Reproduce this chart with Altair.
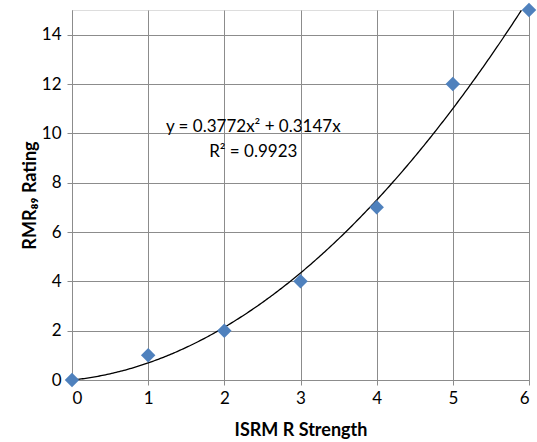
import altair as alt
import pandas as pd

strength = [0, 1, 2, 3, 4, 5, 6]
rating = [0, 1, 2, 4, 7, 12, 15]
coef_a = 0.3772
coef_b = 0.3147
eq_lines = ["y = 0.3772x\u00b2 + 0.3147x", "R\u00b2 = 0.9923"]
eq_x = 2.38
eq_y = 10.25

df = pd.DataFrame({"x": strength, "y": rating})
FONT = "Lato"
GRID = "#8c8c8c"

xscale = alt.Scale(domain=[0, 6], nice=False, zero=False)
yscale = alt.Scale(domain=[0, 15], nice=False)

xaxis = alt.Axis(values=strength, format="d", title="ISRM R Strength", grid=True, gridColor=GRID,
                 domainColor=GRID, tickColor=GRID, tickSize=5, labelFontSize=17,
                 labelFont=FONT, titleFont=FONT, titleFontSize=18, titleFontWeight="bold",
                 labelColor="black", titleColor="black", labelPadding=5,
                 titleY=50, titleBaseline="middle")
yaxis = alt.Axis(values=[0, 2, 4, 6, 8, 10, 12, 14], format="d", title="RMR\u2088\u2089 Rating", grid=True,
                 gridColor=GRID, domainColor=GRID, tickColor=GRID, tickSize=5,
                 labelFontSize=17, labelFont=FONT, titleFont=FONT, titleFontSize=18,
                 titleFontWeight="bold", labelColor="black", titleColor="black",
                 labelPadding=6, titleX=-42, titleY=185, titleBaseline="middle",
                 titleAngle=270)

curve = alt.Chart(alt.sequence(0, 6.001, 0.02, as_="x")).transform_calculate(
    y=f"{coef_a}*datum.x*datum.x + {coef_b}*datum.x"
).transform_filter("datum.y <= 15").mark_line(color="black", strokeWidth=1.3).encode(
    x=alt.X("x:Q", scale=xscale, axis=xaxis),
    y=alt.Y("y:Q", scale=yscale, axis=yaxis),
)

points = alt.Chart(df).mark_point(shape="diamond", filled=True, color="#4F81BD",
                                  size=210, opacity=1).encode(
    x=alt.X("x:Q", scale=xscale),
    y=alt.Y("y:Q", scale=yscale),
)

text = alt.Chart(pd.DataFrame({"x": [eq_x], "y": [eq_y], "t": [eq_lines]})).mark_text(
    font=FONT, fontSize=17, color="black", align="center", baseline="middle", lineHeight=25
).encode(x=alt.X("x:Q", scale=xscale), y=alt.Y("y:Q", scale=yscale), text="t")

chart = alt.layer(curve, points, text).properties(
    width=457, height=370,
    autosize=alt.AutoSizeParams(type="none"),
    padding={"left": 72, "top": 10, "right": 8, "bottom": 62},
).configure_view(stroke=None).configure(background="white")

chart.save("out.html", embed_options={"renderer": "svg", "actions": False})
